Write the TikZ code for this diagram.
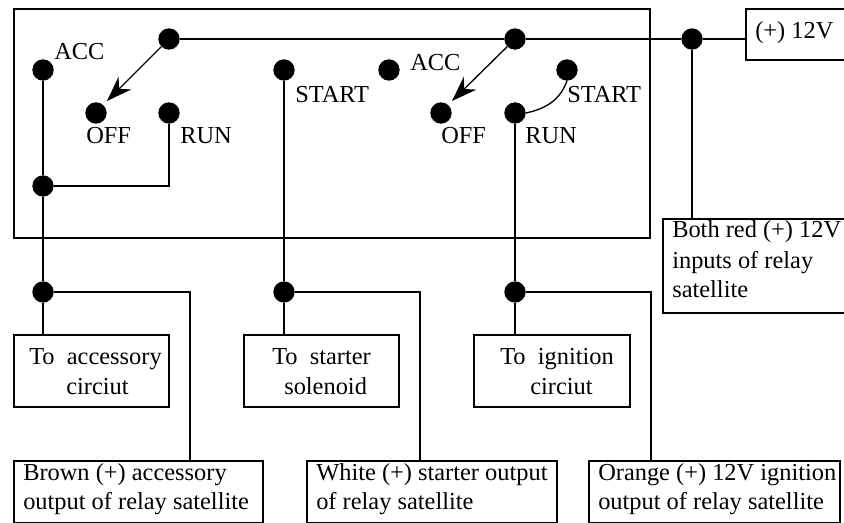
\documentclass[tikz,border=0pt]{standalone}
\usepackage{fontspec}
\setmainfont{Liberation Serif}
\usetikzlibrary{arrows.meta, positioning}
\tikzstyle{contact} = [circle, fill=black, inner sep=0pt, minimum size=16pt]
\tikzstyle{wire} = [line width=1pt]
\tikzstyle{frame} = [rectangle, draw, line width=1.2pt, inner sep=0pt, anchor=north west]
\tikzstyle{lbl} = [inner sep=0pt, anchor=base west, font=\fontsize{18.3}{21}\selectfont]
\tikzstyle{arrow} = [wire, -{Stealth[length=19pt, width=13.5pt]}]

\begin{document}
\begin{tikzpicture}[x=0.75pt, y=-0.75pt]
    \useasboundingbox (0,0) rectangle (844,523);
    % Switch housing
    \node[frame, minimum width=477pt, minimum height=172pt] (housing) at (13,8) {};
    \node[frame, minimum width=116.25pt, minimum height=38.25pt] (supply) at (745,8) {};
    \node[frame, minimum width=138pt, minimum height=70.5pt] (inputs) at (662,218) {};

    % Output boxes
    \node[frame, minimum width=116.25pt, minimum height=54pt] (accbox) at (13,334) {};
    \node[frame, minimum width=116.25pt, minimum height=54pt] (startbox) at (243,334) {};
    \node[frame, minimum width=117pt, minimum height=54pt] (ignbox) at (473,334) {};
    \node[frame, minimum width=186.75pt, minimum height=46.5pt] (brownbox) at (13,460) {};
    \node[frame, minimum width=187.5pt, minimum height=46.5pt] (whitebox) at (306,460) {};
    \node[frame, minimum width=188.25pt, minimum height=46.5pt] (orangebox) at (588,460) {};

    % Contacts
    \node[contact] (swone) at (169,39) {};
    \node[contact] (accone) at (43,70) {};
    \node[contact] (offone) at (96,113) {};
    \node[contact] (runone) at (169,113) {};
    \node[contact] (joinacc) at (43,186) {};
    \node[contact] (startone) at (284,70) {};
    \node[contact] (acctwo) at (389,70) {};
    \node[contact] (swtwo) at (515,39) {};
    \node[contact] (offtwo) at (441,113) {};
    \node[contact] (runtwo) at (515,113) {};
    \node[contact] (starttwo) at (567,70) {};
    \node[contact] (tap) at (692,39) {};
    \node[contact] (outacc) at (43,292) {};
    \node[contact] (outstart) at (284,292) {};
    \node[contact] (outign) at (515,292) {};

    % Wires
    \draw[wire] (swone) -- (swtwo);
    \draw[wire] (swtwo) -- (tap);
    \draw[wire] (tap) -- (supply.west |- tap);
    \draw[wire] (tap) -- (tap |- inputs.north);
    \draw[wire] (accone) -- (joinacc);
    \draw[wire] (joinacc) -- (outacc);
    \draw[wire] (joinacc) -| (runone);
    \draw[wire] (startone) -- (outstart);
    \draw[wire] (runtwo) -- (outign);
    \draw[wire] (runtwo.east) to[out=12, in=-110] (starttwo.south);
    \draw[wire] (outacc) -- (outacc |- accbox.north);
    \draw[wire] (outstart) -- (outstart |- startbox.north);
    \draw[wire] (outign) -- (outign |- ignbox.north);
    \draw[wire] (outacc) -| (190,460);
    \draw[wire] (outstart) -| (420,460);
    \draw[wire] (outign) -| (651,460);

    % Switch arms
    \draw[arrow] (swone) -- (107,101);
    \draw[arrow] (swtwo) -- (452,101);

    % Contact labels
    \node[lbl] (tacc) at (54,60) {ACC};
    \node[lbl] (toff) at (86,144) {OFF};
    \node[lbl] (trun) at (180,144) {RUN};
    \node[lbl] (tstart) at (295,103) {START};
    \node[lbl] (tacctwo) at (410,71) {ACC};
    \node[lbl] (tofftwo) at (441,144) {OFF};
    \node[lbl] (truntwo) at (525,144) {RUN};
    \node[lbl] (tstarttwo) at (567,103) {START};

    % Box texts
    \node[lbl] (tsupply) at (755,39) {(+) 12V};
    \node[lbl] (tinputa) at (672,238) {Both red (+) 12V};
    \node[lbl] (tinputb) at (672,269) {inputs of relay};
    \node[lbl] (tinputc) at (672,298) {satellite};
    \node[lbl] (taccbox) at (29,365) {To\ \ accessory};
    \node[lbl] (taccboxb) at (66,395) {circiut};
    \node[lbl] (tstartbox) at (272,365) {To\ \ starter};
    \node[lbl] (tstartboxb) at (284,395) {solenoid};
    \node[lbl] (tignbox) at (500,365) {To\ \ ignition};
    \node[lbl] (tignboxb) at (530,395) {circiut};
    \node[lbl] (tbrown) at (23,481) {Brown (+) accessory};
    \node[lbl] (tbrownb) at (23,510) {output of relay satellite};
    \node[lbl] (twhite) at (316,481) {White (+) starter output};
    \node[lbl] (twhiteb) at (316,510) {of relay satellite};
    \node[lbl] (torange) at (598,481) {Orange (+) 12V ignition};
    \node[lbl] (torangeb) at (598,510) {output of relay satellite};
\end{tikzpicture}
\end{document}
